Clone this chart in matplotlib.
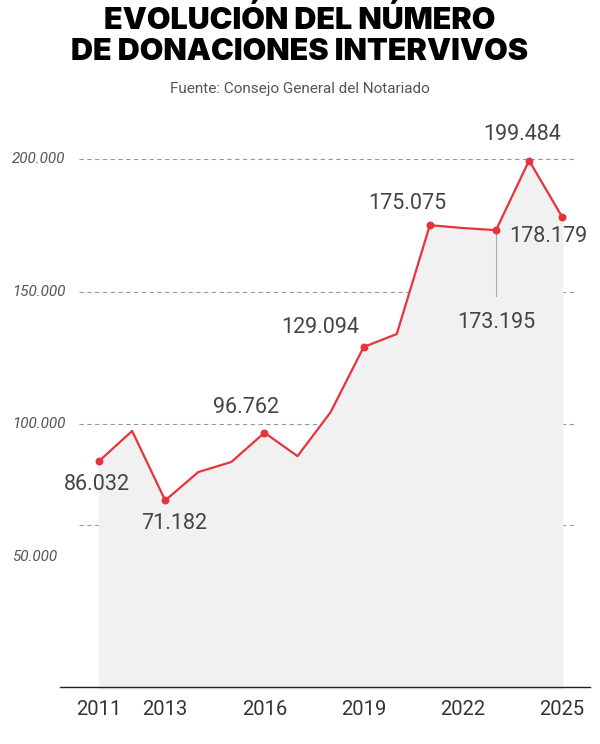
import matplotlib.pyplot as plt
from matplotlib.lines import Line2D

years = list(range(2011, 2026))
donaciones = [86032, 97400, 71182, 81900, 85700, 96762, 87900, 104500,
              129094, 134000, 175075, 174000, 173195, 199484, 178179]
marked_years = [2011, 2013, 2016, 2019, 2021, 2023, 2024, 2025]
x_ticks = [2011, 2013, 2016, 2019, 2022, 2025]
y_labels = [50000, 100000, 150000, 200000]
grid_values = [62000, 100000, 150000, 200000]

# etiquetes: any, desplaçament x (anys), desplaçament y (valor)
label_offsets = {
    2011: (-0.06, -9000),
    2013: (0.27, -8700),
    2016: (-0.57, 9400),
    2019: (-1.33, 7500),
    2021: (-0.67, 8000),
    2023: (0.0, -35000),
    2024: (-0.2, 9800),
    2025: (-0.42, -7200),
}


def fmt(v):
    return f"{v:,}".replace(",", ".")


red = "#e8323c"
plt.rcParams["font.family"] = ["Roboto", "DejaVu Sans"]

fig = plt.figure(figsize=(6, 7.44), dpi=100)
ax = fig.add_axes([0.132, 0.0739, 0.827, 0.730])
ax.set_xlim(2010.4, 2025.4)
ax.set_ylim(0, 205000)

ax.fill_between(years, donaciones, 0, color="#f1f1f1", zorder=1)
for g in grid_values:
    ax.axhline(g, color="#999999", lw=0.8, ls=(0, (4, 3)), zorder=0)
ax.plot(years, donaciones, color=red, lw=1.6, zorder=3)
mk = [donaciones[years.index(y)] for y in marked_years]
ax.scatter(marked_years, mk, color=red, s=22, zorder=4)

# línia de referència per a 2023
v23 = donaciones[years.index(2023)]
ax.plot([2023, 2023], [v23, v23 - 25000], color="#aaaaaa", lw=0.8, zorder=2)

for y in marked_years:
    v = donaciones[years.index(y)]
    dx, dy = label_offsets[y]
    ax.text(y + dx, v + dy, fmt(v), ha="center", va="center",
            fontsize=15.5, color="#444444", zorder=5)

for s in ax.spines.values():
    s.set_visible(False)
ax.set_yticks([])
ax.set_xticks(x_ticks)
ax.tick_params(axis="x", length=0, pad=8, labelsize=14.5, labelcolor="#333333")

for v in y_labels:
    yf = 0.0739 + 0.730 * v / 205000
    fig.text(12 / 600, yf, fmt(v), ha="left", va="center", fontsize=11,
             style="italic", color="#555555")

fig.add_artist(Line2D([60 / 600, 590 / 600], [0.0766, 0.0766],
                      color="#222222", lw=1))

fig.text(0.5, 1 - 20 / 744, "EVOLUCIÓN DEL NÚMERO", ha="center", va="center",
         fontsize=22, fontweight="black", family=["Inter", "DejaVu Sans"])
fig.text(0.5, 1 - 52 / 744, "DE DONACIONES INTERVIVOS", ha="center",
         va="center", fontsize=22, fontweight="black",
         family=["Inter", "DejaVu Sans"])
fig.text(0.5, 1 - 89 / 744, "Fuente: Consejo General del Notariado",
         ha="center", va="center", fontsize=11, color="#555555")

fig.savefig("out.png", dpi=100)
